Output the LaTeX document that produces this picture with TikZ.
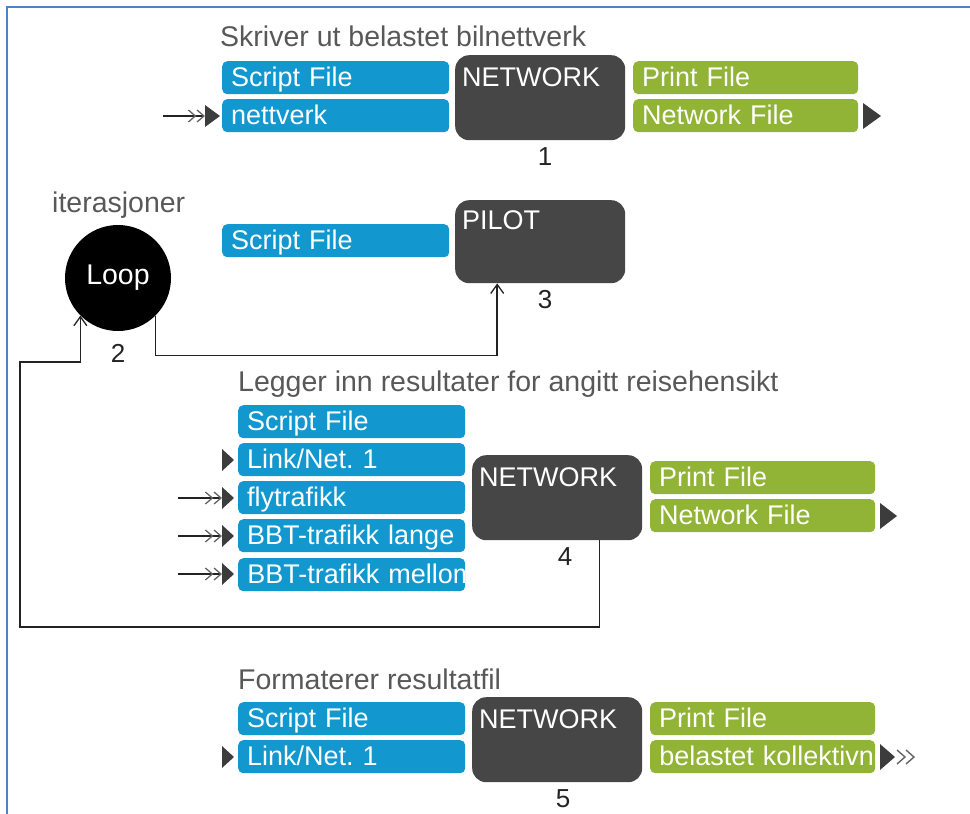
\documentclass[tikz,border=0pt]{standalone}
\usepackage{fontspec}
\setmainfont{Liberation Sans}
\usetikzlibrary{arrows.meta}
\definecolor{cblue}{RGB}{18,152,206}
\definecolor{cgreen}{RGB}{145,179,54}
\definecolor{cdark}{RGB}{70,70,70}
\definecolor{ctitle}{RGB}{88,88,88}
\definecolor{cline}{RGB}{35,35,35}
\definecolor{ctri}{RGB}{60,60,60}
\definecolor{cchev}{RGB}{100,100,100}
\definecolor{cframe}{RGB}{79,129,189}
\newcommand\myboxfont{\fontsize{27}{30}\selectfont}
\newcommand\mytitlefont{\fontsize{28.5}{32}\selectfont}
\tikzset{
  bbox/.style={fill=cblue, rounded corners=5pt, anchor=north west, inner xsep=9pt, inner ysep=0pt,
    text width=209pt, align=left, text height=25pt, text depth=8pt, text=white, font=\myboxfont},
  gbox/.style={bbox, fill=cgreen, text width=207pt},
  dbox/.style={fill=cdark, rounded corners=14pt, anchor=north west, inner xsep=7pt, inner ysep=0pt,
    text width=156pt, align=left, text height=31pt, text depth=54pt, text=white, font=\myboxfont},
  cliptext/.style={anchor=base west, inner sep=0pt, text=white, font=\myboxfont},
  title/.style={anchor=base west, inner sep=0pt, text=ctitle, font=\mytitlefont},
  num/.style={anchor=base, inner sep=0pt, text=cline, font=\fontsize{26}{30}\selectfont},
  loopnode/.style={circle, fill=black, minimum size=106pt, inner sep=0pt, text=white, font=\mytitlefont},
  conn/.style={draw=cline, line width=1.6pt, -{Straight Barb[length=9pt,width=13pt,line width=1.3pt]}},
  inarr/.style={draw=cline, line width=1.2pt,
    -{Straight Barb[length=7pt,width=12pt,line width=1.3pt,color=cchev]Straight Barb[length=7pt,width=12pt,line width=1.3pt,color=cchev]}},
  tri/.style={fill=ctri},
  chev/.style={draw=cchev, line width=1.4pt},
  frame/.style={draw=cframe, line width=2.5pt}
}
\begin{document}
\begin{tikzpicture}[x=1pt,y=-1pt]
\useasboundingbox (0,0) rectangle (970,814);
\draw[frame] (7,814) -- (7,7) -- (970,7);

% ---------- Section 1 ----------
\node[title] (tt1) at (220,46) {Skriver ut belastet bilnettverk};
\node[bbox] (sf1) at (222,61) {Script File};
\node[bbox] (nv1) at (222,99) {nettverk};
\node[dbox] (net1) at (455,55) {NETWORK};
\node[gbox] (pf1) at (633,61) {Print File};
\node[gbox] (nf1) at (633,99) {Network File};
\node[num] (n1) at ([xshift=5pt,yshift=-25pt]net1.south) {1};
\fill[tri] (205,105) -- (220,116) -- (205,127) -- cycle;
\coordinate (t1in) at (205,116);
\coordinate (s1in) at (163,116);
\draw[inarr] (s1in) -- (t1in);
\fill[tri] (863,103) -- (881,116) -- (863,129) -- cycle;

% ---------- Section 2 ----------
\node[title] (tt2) at (52,212) {iterasjoner};
\node[loopnode] (loop) at (118,278) {Loop};
\node[num] (n2) at (118,362) {2};
\node[bbox] (sf2) at (222,224) {Script File};
\node[dbox, text height=29pt, text depth=54pt] (pilot) at (455,200) {PILOT};
\node[num] (n3) at ([xshift=5pt,yshift=-25pt]pilot.south) {3};
\draw[conn] (loop.south east) -- ++(0,40) -| ([xshift=-43pt]pilot.south);

% ---------- Section 3 ----------
\node[title] (tt3) at (238,391) {Legger inn resultater for angitt reisehensikt};
\node[bbox] (sf3) at (238,405) {Script File};
\node[bbox] (ln3) at (238,443) {Link/Net.\ 1};
\node[bbox] (fl3) at (238,481) {flytrafikk};
\node[bbox] (bl3) at (238,519) {BBT-trafikk lange};
\node[bbox, path picture={\node[cliptext] at ([xshift=9pt,yshift=8pt]path picture bounding box.south west) {\mbox{BBT-trafikk mellom}};}] (bm3) at (238,558) {};
\node[dbox] (net4) at (472,455) {NETWORK};
\node[num] (n4) at ([xshift=8pt,yshift=-25pt]net4.south) {4};
\node[gbox] (pf3) at (650,461) {Print File};
\node[gbox] (nf3) at (650,499) {Network File};
\foreach \yy/\nm in {460/a,498/b,536/c,574/d}{
  \fill[tri] (222,\yy-11) -- (234,\yy) -- (222,\yy+11) -- cycle;
  \coordinate (t3\nm) at (222,\yy);
}
\foreach \nm/\yy in {b/498,c/536,d/574}{
  \coordinate (s3\nm) at (178,\yy);
  \draw[inarr] (s3\nm) -- (t3\nm);
}
\fill[tri] (880,503) -- (897,516) -- (880,529) -- cycle;

% feedback loop
\coordinate (fb) at ([xshift=-43pt]net4.south east);
\coordinate (c1) at (20,627);
\coordinate (c2) at (20,362);
\draw[conn] (fb) |- (c1) -- (c2) -| (loop.south west);

% ---------- Section 4 ----------
\node[title] (tt4) at (238,689) {Formaterer resultatfil};
\node[bbox] (sf4) at (238,702) {Script File};
\node[bbox] (ln4) at (238,740) {Link/Net.\ 1};
\node[dbox] (net5) at (472,697) {NETWORK};
\node[num] (n5) at ([xshift=6pt,yshift=-25pt]net5.south) {5};
\node[gbox] (pf4) at (650,702) {Print File};
\node[gbox, path picture={\node[cliptext] at ([xshift=9pt,yshift=8pt]path picture bounding box.south west) {\mbox{belastet kollektivnett}};}] (bk4) at (650,740) {};
\fill[tri] (222,746) -- (234,757) -- (222,768) -- cycle;
\fill[tri] (880,744) -- (895,757) -- (880,770) -- cycle;
\draw[chev] (897,750) -- (905,757) -- (897,764);
\draw[chev] (906,750) -- (914,757) -- (906,764);
\end{tikzpicture}
\end{document}
